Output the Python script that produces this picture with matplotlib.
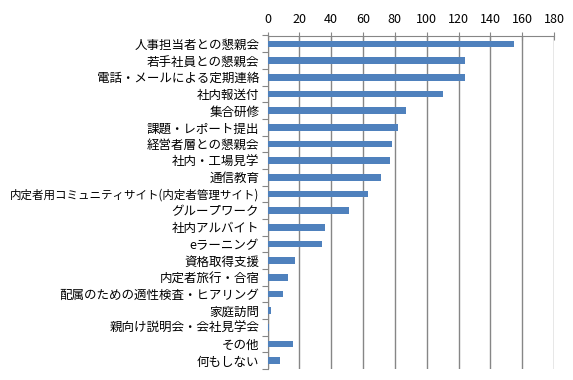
import matplotlib
matplotlib.use("Agg")
import matplotlib.pyplot as plt

plt.rcParams['font.family'] = ['Noto Sans CJK JP', 'DejaVu Sans']

# categories top -> bottom
labels = ["人事担当者との懇親会", "若手社員との懇親会", "電話・メールによる定期連絡", "社内報送付",
          "集合研修", "課題・レポート提出", "経営者層との懇親会", "社内・工場見学", "通信教育",
          "内定者用コミュニティサイト(内定者管理サイト)", "グループワーク", "社内アルバイト",
          "eラーニング", "資格取得支援", "内定者旅行・合宿", "配属のための適性検査・ヒアリング",
          "家庭訪問", "親向け説明会・会社見学会", "その他", "何もしない"]
values = [155, 124, 124, 110, 87, 82, 78, 77, 71, 63, 51, 36, 34, 17, 13, 10, 2, 1, 16, 8]
xticks = [0, 20, 40, 60, 80, 100, 120, 140, 160, 180]

fig = plt.figure(figsize=(5.73, 3.80), dpi=100)
ax = fig.add_axes([267.5 / 573, 1 - 369 / 380, (554 - 267.5) / 573, (369 - 35.5) / 380])

pos = list(range(len(labels)))
ax.barh(pos, values, height=0.4, color='#4F81BD', zorder=3)
ax.set_ylim(len(labels) - 0.5, -0.5)
ax.set_xlim(0, 180)

ax.xaxis.tick_top()
ax.set_xticks(xticks)
ax.set_xticklabels([str(v) for v in xticks], fontsize=9)
ax.tick_params(axis='x', direction='inout', length=6, color='#868686', pad=4)
ax.xaxis.grid(True, color='#868686', linewidth=1, zorder=0)

ax.set_yticks([p - 0.5 for p in pos] + [len(labels) - 0.5])
ax.set_yticklabels([])
ax.set_yticks(pos, minor=True)
ax.set_yticklabels(labels, minor=True, fontsize=9)
ax.tick_params(axis='y', which='major', direction='out', length=4, color='#868686')
ax.tick_params(axis='y', which='minor', length=0, pad=6)

# the long label needs a smaller size to fit
for t in ax.get_yticklabels(minor=True):
    if len(t.get_text()) > 16:
        t.set_fontsize(8.3)

for s in ['right', 'bottom']:
    ax.spines[s].set_visible(False)
for s in ['top', 'left']:
    ax.spines[s].set_color('#868686')

fig.savefig("out.png", dpi=100)
